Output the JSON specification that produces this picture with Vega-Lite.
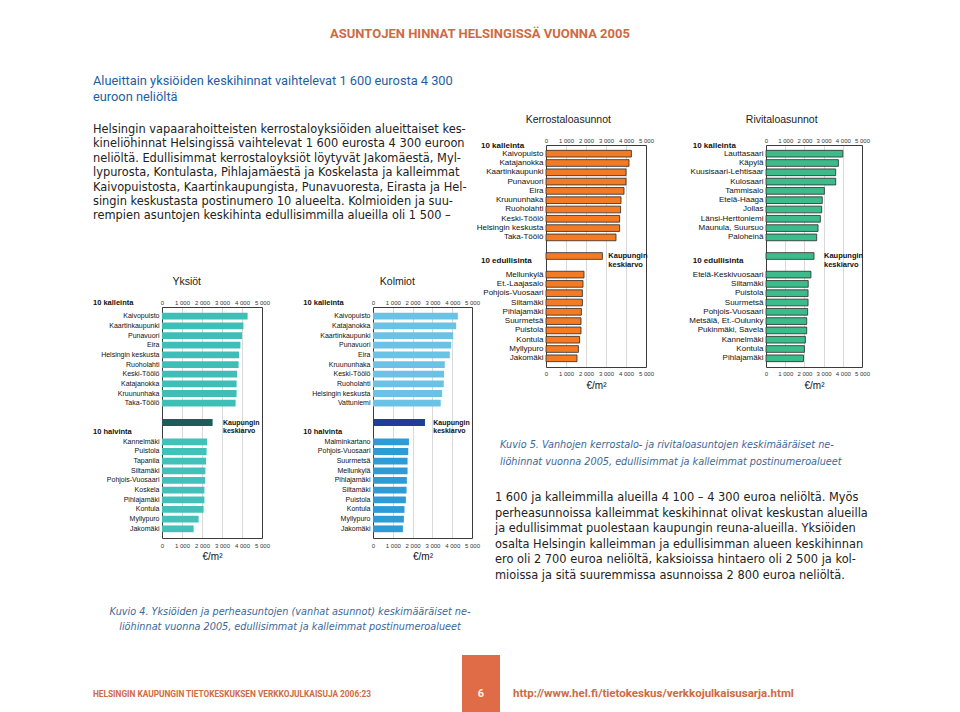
{
  "$schema": "https://vega.github.io/schema/vega-lite/v6.json",
  "width": 960,
  "height": 712,
  "padding": 0,
  "autosize": {"type": "none"},
  "background": "white",
  "config": {
    "view": {"stroke": null},
    "font": "Liberation Sans",
    "text": {"font": "Liberation Sans"},
    "axis": {"labelFont": "Liberation Sans", "titleFont": "Liberation Sans"}
  },
  "resolve": {"scale": {"x": "independent", "y": "independent", "color": "independent"}, "axis": {"x": "independent", "y": "independent"}},
  "datasets": {
    "hdr": [{"t": "ASUNTOJEN HINNAT HELSINGISSÄ VUONNA 2005"}],
    "heading": [{"t": ["Alueittain yksiöiden keskihinnat vaihtelevat 1 600 eurosta 4 300", "euroon neliöltä"]}],
    "body1": [{"t": [
      "Helsingin vapaarahoitteisten kerrostaloyksiöiden alueittaiset kes-",
      "kineliöhinnat Helsingissä vaihtelevat 1 600 eurosta 4 300 euroon",
      "neliöltä. Edullisimmat kerrostaloyksiöt löytyvät Jakomäestä, Myl-",
      "lypurosta, Kontulasta, Pihlajamäestä ja Koskelasta ja kalleimmat",
      "Kaivopuistosta, Kaartinkaupungista, Punavuoresta, Eirasta ja Hel-",
      "singin keskustasta postinumero 10 alueelta. Kolmioiden ja suu-",
      "rempien asuntojen keskihinta edullisimmilla alueilla oli 1 500 –"
    ]}],
    "cap4": [{"t": [
      "Kuvio 4. Yksiöiden ja perheasuntojen (vanhat asunnot) keskimääräiset ne-",
      "liöhinnat vuonna 2005, edullisimmat ja kalleimmat postinumeroalueet"
    ]}],
    "foot1": [{"t": "HELSINGIN KAUPUNGIN TIETOKESKUKSEN VERKKOJULKAISUJA 2006:23"}],
    "page": [{"t": "6"}],
    "cap5": [{"t": [
      "Kuvio 5.  Vanhojen kerrostalo- ja rivitaloasuntojen keskimääräiset ne-",
      "liöhinnat vuonna 2005, edullisimmat ja kalleimmat postinumeroalueet"
    ]}],
    "body2": [{"t": [
      "1 600 ja kalleimmilla alueilla 4 100 – 4 300 euroa neliöltä. Myös",
      "perheasunnoissa kalleimmat keskihinnat olivat keskustan alueilla",
      "ja edullisimmat puolestaan kaupungin reuna-alueilla. Yksiöiden",
      "osalta Helsingin kalleimman ja edullisimman alueen keskihinnan",
      "ero oli 2 700 euroa neliöltä, kaksioissa hintaero oli 2 500 ja kol-",
      "mioissa ja sitä suuremmissa asunnoissa 2 800 euroa neliöltä."
    ]}],
    "url": [{"t": "http://www.hel.fi/tietokeskus/verkkojulkaisusarja.html"}],
    "yks": [
      {"area": "Kaivopuisto", "value": 4280, "grp": "top"},
      {"area": "Kaartinkaupunki", "value": 4070, "grp": "top"},
      {"area": "Punavuori", "value": 4000, "grp": "top"},
      {"area": "Eira", "value": 3920, "grp": "top"},
      {"area": "Helsingin keskusta", "value": 3850, "grp": "top"},
      {"area": "Ruoholahti", "value": 3830, "grp": "top"},
      {"area": "Keski-Töölö", "value": 3750, "grp": "top"},
      {"area": "Katajanokka", "value": 3730, "grp": "top"},
      {"area": "Kruununhaka", "value": 3730, "grp": "top"},
      {"area": "Taka-Töölö", "value": 3680, "grp": "top"},
      {"area": "Kaupungin keskiarvo", "value": 2530, "grp": "avg"},
      {"area": "Kannelmäki", "value": 2250, "grp": "bottom"},
      {"area": "Puistola", "value": 2230, "grp": "bottom"},
      {"area": "Tapanila", "value": 2200, "grp": "bottom"},
      {"area": "Siltamäki", "value": 2170, "grp": "bottom"},
      {"area": "Pohjois-Vuosaari", "value": 2150, "grp": "bottom"},
      {"area": "Koskela", "value": 2120, "grp": "bottom"},
      {"area": "Pihlajamäki", "value": 2120, "grp": "bottom"},
      {"area": "Kontula", "value": 2080, "grp": "bottom"},
      {"area": "Myllypuro", "value": 1830, "grp": "bottom"},
      {"area": "Jakomäki", "value": 1580, "grp": "bottom"}
    ],
    "kol": [
      {"area": "Kaivopuisto", "value": 4285, "grp": "top"},
      {"area": "Katajanokka", "value": 4200, "grp": "top"},
      {"area": "Kaartinkaupunki", "value": 4050, "grp": "top"},
      {"area": "Punavuori", "value": 3950, "grp": "top"},
      {"area": "Eira", "value": 3880, "grp": "top"},
      {"area": "Kruununhaka", "value": 3625, "grp": "top"},
      {"area": "Keski-Töölö", "value": 3590, "grp": "top"},
      {"area": "Ruoholahti", "value": 3575, "grp": "top"},
      {"area": "Helsingin keskusta", "value": 3490, "grp": "top"},
      {"area": "Vattuniemi", "value": 3420, "grp": "top"},
      {"area": "Kaupungin keskiarvo", "value": 2625, "grp": "avg"},
      {"area": "Malminkartano", "value": 1815, "grp": "bottom"},
      {"area": "Pohjois-Vuosaari", "value": 1780, "grp": "bottom"},
      {"area": "Suurmetsä", "value": 1745, "grp": "bottom"},
      {"area": "Mellunkylä", "value": 1745, "grp": "bottom"},
      {"area": "Pihlajamäki", "value": 1710, "grp": "bottom"},
      {"area": "Siltamäki", "value": 1695, "grp": "bottom"},
      {"area": "Puistola", "value": 1660, "grp": "bottom"},
      {"area": "Kontula", "value": 1590, "grp": "bottom"},
      {"area": "Myllypuro", "value": 1560, "grp": "bottom"},
      {"area": "Jakomäki", "value": 1510, "grp": "bottom"}
    ],
    "ker": [
      {"area": "Kaivopuisto", "value": 4270, "grp": "top"},
      {"area": "Katajanokka", "value": 4150, "grp": "top"},
      {"area": "Kaartinkaupunki", "value": 4000, "grp": "top"},
      {"area": "Punavuori", "value": 4000, "grp": "top"},
      {"area": "Eira", "value": 3900, "grp": "top"},
      {"area": "Kruununhaka", "value": 3750, "grp": "top"},
      {"area": "Ruoholahti", "value": 3730, "grp": "top"},
      {"area": "Keski-Töölö", "value": 3680, "grp": "top"},
      {"area": "Helsingin keskusta", "value": 3680, "grp": "top"},
      {"area": "Taka-Töölö", "value": 3500, "grp": "top"},
      {"area": "Kaupungin keskiarvo", "value": 2820, "grp": "avg"},
      {"area": "Mellunkylä", "value": 1900, "grp": "bottom"},
      {"area": "Et.-Laajasalo", "value": 1850, "grp": "bottom"},
      {"area": "Pohjois-Vuosaari", "value": 1820, "grp": "bottom"},
      {"area": "Siltamäki", "value": 1820, "grp": "bottom"},
      {"area": "Pihlajamäki", "value": 1770, "grp": "bottom"},
      {"area": "Suurmetsä", "value": 1750, "grp": "bottom"},
      {"area": "Puistola", "value": 1750, "grp": "bottom"},
      {"area": "Kontula", "value": 1680, "grp": "bottom"},
      {"area": "Myllypuro", "value": 1620, "grp": "bottom"},
      {"area": "Jakomäki", "value": 1550, "grp": "bottom"}
    ],
    "riv": [
      {"area": "Lauttasaari", "value": 4000, "grp": "top"},
      {"area": "Käpylä", "value": 3770, "grp": "top"},
      {"area": "Kuusisaari-Lehtisaar", "value": 3630, "grp": "top"},
      {"area": "Kulosaari", "value": 3630, "grp": "top"},
      {"area": "Tammisalo", "value": 3040, "grp": "top"},
      {"area": "Etelä-Haaga", "value": 2930, "grp": "top"},
      {"area": "Jollas", "value": 2900, "grp": "top"},
      {"area": "Länsi-Herttoniemi", "value": 2830, "grp": "top"},
      {"area": "Maunula, Suursuo", "value": 2710, "grp": "top"},
      {"area": "Paloheinä", "value": 2640, "grp": "top"},
      {"area": "Kaupungin keskiarvo", "value": 2500, "grp": "avg"},
      {"area": "Etelä-Keskivuosaari", "value": 2340, "grp": "bottom"},
      {"area": "Siltamäki", "value": 2200, "grp": "bottom"},
      {"area": "Puistola", "value": 2190, "grp": "bottom"},
      {"area": "Suurmetsä", "value": 2190, "grp": "bottom"},
      {"area": "Pohjois-Vuosaari", "value": 2170, "grp": "bottom"},
      {"area": "Metsälä, Et.-Oulunky", "value": 2120, "grp": "bottom"},
      {"area": "Pukinmäki, Savela", "value": 2120, "grp": "bottom"},
      {"area": "Kannelmäki", "value": 2050, "grp": "bottom"},
      {"area": "Kontula", "value": 2000, "grp": "bottom"},
      {"area": "Pihlajamäki", "value": 1950, "grp": "bottom"}
    ]
  },
  "layer": [
    {"data": {"name": "hdr"}, "mark": {"type": "text", "x": 480, "y": 38, "align": "center", "baseline": "alphabetic", "font": "Roboto", "fontWeight": "bold", "fontSize": 13, "color": "#CF6A43"}, "encoding": {"text": {"field": "t", "type": "nominal"}}},
    {"data": {"name": "heading"}, "mark": {"type": "text", "x": 93, "y": 85, "align": "left", "baseline": "alphabetic", "font": "Roboto", "fontSize": 12.8, "lineHeight": 16, "color": "#1D5FA3"}, "encoding": {"text": {"field": "t", "type": "nominal"}}},
    {"data": {"name": "body1"}, "mark": {"type": "text", "x": 93, "y": 133, "align": "left", "baseline": "alphabetic", "font": "DejaVu Sans", "fontSize": 11.4, "lineHeight": 14.4, "color": "#222222"}, "encoding": {"text": {"field": "t", "type": "nominal"}}},
    {"data": {"name": "cap4"}, "mark": {"type": "text", "x": 290, "y": 614.5, "align": "center", "baseline": "alphabetic", "font": "DejaVu Sans", "fontStyle": "italic", "fontSize": 9.7, "lineHeight": 15.5, "color": "#3D6896"}, "encoding": {"text": {"field": "t", "type": "nominal"}}},
    {"data": {"name": "foot1"}, "mark": {"type": "text", "x": 93, "y": 697, "align": "left", "baseline": "alphabetic", "font": "Roboto", "fontWeight": "bold", "fontSize": 8.3, "color": "#D06A42"}, "encoding": {"text": {"field": "t", "type": "nominal"}}},
    {"data": {"values": [{"t": "6"}]}, "mark": {"type": "rect", "x": 462, "x2": 500, "y": 655, "y2": 712, "color": "#E06C47"}, "encoding": {}},
    {"data": {"name": "page"}, "mark": {"type": "text", "x": 481, "y": 697, "align": "center", "baseline": "alphabetic", "font": "Roboto", "fontWeight": "bold", "fontSize": 11, "color": "#FFF3EC"}, "encoding": {"text": {"field": "t", "type": "nominal"}}},
    {"data": {"name": "cap5"}, "mark": {"type": "text", "x": 500, "y": 448, "align": "left", "baseline": "alphabetic", "font": "DejaVu Sans", "fontStyle": "italic", "fontSize": 9.7, "lineHeight": 16.5, "color": "#3D6896"}, "encoding": {"text": {"field": "t", "type": "nominal"}}},
    {"data": {"name": "body2"}, "mark": {"type": "text", "x": 495, "y": 501, "align": "left", "baseline": "alphabetic", "font": "DejaVu Sans", "fontSize": 11.4, "lineHeight": 15.6, "color": "#222222"}, "encoding": {"text": {"field": "t", "type": "nominal"}}},
    {"data": {"name": "url"}, "mark": {"type": "text", "x": 513, "y": 697, "align": "left", "baseline": "alphabetic", "font": "Roboto", "fontWeight": "bold", "fontSize": 11.5, "color": "#D06A42"}, "encoding": {"text": {"field": "t", "type": "nominal"}}},
    {
      "resolve": {"axis": {"x": "independent", "y": "independent"}},
      "layer": [
        {
          "data": {"name": "yks"},
          "mark": {"type": "bar"},
          "encoding": {
            "x": {"field": "value", "type": "quantitative", "scale": {"domain": [0, 5000], "range": [162, 262], "nice": false},
              "axis": {"orient": "top", "offset": -307, "values": [0, 1000, 2000, 3000, 4000, 5000], "labelExpr": "datum.value == 0 ? '0' : (datum.value/1000) + ' 000'", "ticks": false, "domain": true, "domainColor": "#3c3c3c", "grid": true, "gridColor": "#c9c9c9", "gridWidth": 0.7, "labelFontSize": 6, "labelColor": "#333333", "labelPadding": 2, "title": null, "labelFlush": false}},
            "y": {"field": "area", "type": "nominal", "sort": null,
              "scale": {"domain": ["Kaivopuisto", "Kaartinkaupunki", "Punavuori", "Eira", "Helsingin keskusta", "Ruoholahti", "Keski-Töölö", "Katajanokka", "Kruununhaka", "Taka-Töölö", "_g1", "Kaupungin keskiarvo", "_h2", "Kannelmäki", "Puistola", "Tapanila", "Siltamäki", "Pohjois-Vuosaari", "Koskela", "Pihlajamäki", "Kontula", "Myllypuro", "Jakomäki"], "range": [307, 538], "paddingInner": 0.3, "paddingOuter": 0.6},
              "axis": {"orient": "left", "offset": -162, "title": null, "ticks": false, "domain": true, "domainColor": "#3c3c3c", "grid": false, "labelFontSize": 7, "labelColor": "#111111", "labelPadding": 3, "labelExpr": "indexof(['_g1','_h2','Kaupungin keskiarvo'], datum.value) >= 0 ? '' : datum.value"}},
            "color": {"field": "grp", "type": "nominal", "scale": {"domain": ["top", "avg", "bottom"], "range": ["#3FBEB7", "#1C5D5A", "#42C0B9"]}, "legend": null}
          }
        },
        {
          "data": {"values": [{"t": "Yksiöt"}]},
          "mark": {"type": "text", "align": "center", "baseline": "middle", "fontSize": 10.5, "dy": -34, "color": "#222222"},
          "encoding": {"x": {"datum": 1235, "axis": null}, "y": {"datum": "Kaivopuisto", "axis": null}, "text": {"field": "t", "type": "nominal"}}
        },
        {
          "data": {"values": [{"t": "10 kalleinta"}]},
          "mark": {"type": "text", "align": "left", "baseline": "middle", "fontWeight": "bold", "fontSize": 7.5, "dy": -13.5, "color": "#111111"},
          "encoding": {"x": {"datum": -3450, "axis": null}, "y": {"datum": "Kaivopuisto", "axis": null}, "text": {"field": "t", "type": "nominal"}}
        },
        {
          "data": {"values": [{"t": "10 halvinta"}]},
          "mark": {"type": "text", "align": "left", "baseline": "middle", "fontWeight": "bold", "fontSize": 7.5, "color": "#111111"},
          "encoding": {"x": {"datum": -3450, "axis": null},
            "y": {"datum": "_h2", "axis": {"orient": "right", "offset": -698, "title": null, "ticks": false, "labels": false, "domain": true, "domainColor": "#3c3c3c", "grid": false}},
            "text": {"field": "t", "type": "nominal"}}
        },
        {
          "data": {"values": [{"t": ["Kaupungin", "keskiarvo"]}]},
          "mark": {"type": "text", "align": "left", "baseline": "middle", "fontWeight": "bold", "fontSize": 7, "lineHeight": 8.5, "color": "#111111"},
          "encoding": {
            "x": {"datum": 3050, "axis": {"orient": "bottom", "offset": -174, "values": [0, 1000, 2000, 3000, 4000, 5000], "labelExpr": "datum.value == 0 ? '0' : (datum.value/1000) + ' 000'", "ticks": false, "domain": true, "domainColor": "#3c3c3c", "grid": false, "labelFontSize": 6, "labelColor": "#333333", "labelPadding": 4, "title": "€/m²", "titleFontSize": 10, "titleFontWeight": "normal", "titleColor": "#111111", "titlePadding": 3, "labelFlush": false}},
            "y": {"datum": "Kaupungin keskiarvo", "axis": null},
            "text": {"field": "t", "type": "nominal"}
          }
        }
      ]
    },
    {
      "resolve": {"axis": {"x": "independent", "y": "independent"}},
      "layer": [
        {
          "data": {"name": "kol"},
          "mark": {"type": "bar"},
          "encoding": {
            "x": {"field": "value", "type": "quantitative", "scale": {"domain": [0, 5000], "range": [373, 472], "nice": false},
              "axis": {"orient": "top", "offset": -307, "values": [0, 1000, 2000, 3000, 4000, 5000], "labelExpr": "datum.value == 0 ? '0' : (datum.value/1000) + ' 000'", "ticks": false, "domain": true, "domainColor": "#3c3c3c", "grid": true, "gridColor": "#c9c9c9", "gridWidth": 0.7, "labelFontSize": 6, "labelColor": "#333333", "labelPadding": 2, "title": null, "labelFlush": false}},
            "y": {"field": "area", "type": "nominal", "sort": null,
              "scale": {"domain": ["Kaivopuisto", "Katajanokka", "Kaartinkaupunki", "Punavuori", "Eira", "Kruununhaka", "Keski-Töölö", "Ruoholahti", "Helsingin keskusta", "Vattuniemi", "_g1", "Kaupungin keskiarvo", "_h2", "Malminkartano", "Pohjois-Vuosaari", "Suurmetsä", "Mellunkylä", "Pihlajamäki", "Siltamäki", "Puistola", "Kontula", "Myllypuro", "Jakomäki"], "range": [307, 538], "paddingInner": 0.3, "paddingOuter": 0.6},
              "axis": {"orient": "left", "offset": -373, "title": null, "ticks": false, "domain": true, "domainColor": "#3c3c3c", "grid": false, "labelFontSize": 7, "labelColor": "#111111", "labelPadding": 3, "labelExpr": "indexof(['_g1','_h2','Kaupungin keskiarvo'], datum.value) >= 0 ? '' : datum.value"}},
            "color": {"field": "grp", "type": "nominal", "scale": {"domain": ["top", "avg", "bottom"], "range": ["#6CC2E5", "#1E3E98", "#2C9BD6"]}, "legend": null}
          }
        },
        {
          "data": {"values": [{"t": "Kolmiot"}]},
          "mark": {"type": "text", "align": "center", "baseline": "middle", "fontSize": 10.5, "dy": -34, "color": "#222222"},
          "encoding": {"x": {"datum": 1227, "axis": null}, "y": {"datum": "Kaivopuisto", "axis": null}, "text": {"field": "t", "type": "nominal"}}
        },
        {
          "data": {"values": [{"t": "10 kalleinta"}]},
          "mark": {"type": "text", "align": "left", "baseline": "middle", "fontWeight": "bold", "fontSize": 7.5, "dy": -13.5, "color": "#111111"},
          "encoding": {"x": {"datum": -3520, "axis": null}, "y": {"datum": "Kaivopuisto", "axis": null}, "text": {"field": "t", "type": "nominal"}}
        },
        {
          "data": {"values": [{"t": "10 halvinta"}]},
          "mark": {"type": "text", "align": "left", "baseline": "middle", "fontWeight": "bold", "fontSize": 7.5, "color": "#111111"},
          "encoding": {"x": {"datum": -3520, "axis": null},
            "y": {"datum": "_h2", "axis": {"orient": "right", "offset": -488, "title": null, "ticks": false, "labels": false, "domain": true, "domainColor": "#3c3c3c", "grid": false}},
            "text": {"field": "t", "type": "nominal"}}
        },
        {
          "data": {"values": [{"t": ["Kaupungin", "keskiarvo"]}]},
          "mark": {"type": "text", "align": "left", "baseline": "middle", "fontWeight": "bold", "fontSize": 7, "lineHeight": 8.5, "color": "#111111"},
          "encoding": {
            "x": {"datum": 3045, "axis": {"orient": "bottom", "offset": -174, "values": [0, 1000, 2000, 3000, 4000, 5000], "labelExpr": "datum.value == 0 ? '0' : (datum.value/1000) + ' 000'", "ticks": false, "domain": true, "domainColor": "#3c3c3c", "grid": false, "labelFontSize": 6, "labelColor": "#333333", "labelPadding": 4, "title": "€/m²", "titleFontSize": 10, "titleFontWeight": "normal", "titleColor": "#111111", "titlePadding": 3, "labelFlush": false}},
            "y": {"datum": "Kaupungin keskiarvo", "axis": null},
            "text": {"field": "t", "type": "nominal"}
          }
        }
      ]
    },
    {
      "resolve": {"axis": {"x": "independent", "y": "independent"}},
      "layer": [
        {
          "data": {"name": "ker"},
          "mark": {"type": "bar", "stroke": "#2a2a2a", "strokeWidth": 0.8},
          "encoding": {
            "x": {"field": "value", "type": "quantitative", "scale": {"domain": [0, 5000], "range": [546, 646], "nice": false},
              "axis": {"orient": "top", "offset": -145, "values": [0, 1000, 2000, 3000, 4000, 5000], "labelExpr": "datum.value == 0 ? '0' : (datum.value/1000) + ' 000'", "ticks": false, "domain": true, "domainColor": "#3c3c3c", "grid": true, "gridColor": "#c9c9c9", "gridWidth": 0.7, "labelFontSize": 6, "labelColor": "#333333", "labelPadding": 2, "title": null, "labelFlush": false}},
            "y": {"field": "area", "type": "nominal", "sort": null,
              "scale": {"domain": ["Kaivopuisto", "Katajanokka", "Kaartinkaupunki", "Punavuori", "Eira", "Kruununhaka", "Ruoholahti", "Keski-Töölö", "Helsingin keskusta", "Taka-Töölö", "_g1", "Kaupungin keskiarvo", "_h2", "Mellunkylä", "Et.-Laajasalo", "Pohjois-Vuosaari", "Siltamäki", "Pihlajamäki", "Suurmetsä", "Puistola", "Kontula", "Myllypuro", "Jakomäki"], "range": [145, 367], "paddingInner": 0.28, "paddingOuter": 0.575},
              "axis": {"orient": "left", "offset": -546, "title": null, "ticks": false, "domain": true, "domainColor": "#3c3c3c", "grid": false, "labelFontSize": 8, "labelColor": "#111111", "labelPadding": 3, "labelExpr": "indexof(['_g1','_h2','Kaupungin keskiarvo'], datum.value) >= 0 ? '' : datum.value"}},
            "color": {"field": "grp", "type": "nominal", "scale": {"domain": ["top", "avg", "bottom"], "range": ["#F47B24", "#F47B24", "#F47B24"]}, "legend": null}
          }
        },
        {
          "data": {"values": [{"t": "Kerrostaloasunnot"}]},
          "mark": {"type": "text", "align": "center", "baseline": "middle", "fontSize": 10.5, "dy": -33.7, "color": "#222222"},
          "encoding": {"x": {"datum": 1115, "axis": null}, "y": {"datum": "Kaivopuisto", "axis": null}, "text": {"field": "t", "type": "nominal"}}
        },
        {
          "data": {"values": [{"t": "10 kalleinta"}]},
          "mark": {"type": "text", "align": "left", "baseline": "middle", "fontWeight": "bold", "fontSize": 8, "dy": -8, "color": "#111111"},
          "encoding": {"x": {"datum": -3250, "axis": null}, "y": {"datum": "Kaivopuisto", "axis": null}, "text": {"field": "t", "type": "nominal"}}
        },
        {
          "data": {"values": [{"t": "10 edullisinta"}]},
          "mark": {"type": "text", "align": "left", "baseline": "middle", "fontWeight": "bold", "fontSize": 8, "dy": -4.6, "color": "#111111"},
          "encoding": {"x": {"datum": -3250, "axis": null},
            "y": {"datum": "_h2", "axis": {"orient": "right", "offset": -314, "title": null, "ticks": false, "labels": false, "domain": true, "domainColor": "#3c3c3c", "grid": false}},
            "text": {"field": "t", "type": "nominal"}}
        },
        {
          "data": {"values": [{"t": ["Kaupungin", "keskiarvo"]}]},
          "mark": {"type": "text", "align": "left", "baseline": "middle", "fontWeight": "bold", "fontSize": 7.5, "lineHeight": 8.5, "color": "#111111"},
          "encoding": {
            "x": {"datum": 3115, "axis": {"orient": "bottom", "offset": -345, "values": [0, 1000, 2000, 3000, 4000, 5000], "labelExpr": "datum.value == 0 ? '0' : (datum.value/1000) + ' 000'", "ticks": false, "domain": true, "domainColor": "#3c3c3c", "grid": false, "labelFontSize": 6, "labelColor": "#333333", "labelPadding": 3, "title": "€/m²", "titleFontSize": 10, "titleFontWeight": "normal", "titleColor": "#111111", "titlePadding": 4, "labelFlush": false}},
            "y": {"datum": "Kaupungin keskiarvo", "axis": null},
            "text": {"field": "t", "type": "nominal"}
          }
        }
      ]
    },
    {
      "resolve": {"axis": {"x": "independent", "y": "independent"}},
      "layer": [
        {
          "data": {"name": "riv"},
          "mark": {"type": "bar", "stroke": "#2a2a2a", "strokeWidth": 0.8},
          "encoding": {
            "x": {"field": "value", "type": "quantitative", "scale": {"domain": [0, 5000], "range": [766, 862], "nice": false},
              "axis": {"orient": "top", "offset": -145, "values": [0, 1000, 2000, 3000, 4000, 5000], "labelExpr": "datum.value == 0 ? '0' : (datum.value/1000) + ' 000'", "ticks": false, "domain": true, "domainColor": "#3c3c3c", "grid": true, "gridColor": "#c9c9c9", "gridWidth": 0.7, "labelFontSize": 6, "labelColor": "#333333", "labelPadding": 2, "title": null, "labelFlush": false}},
            "y": {"field": "area", "type": "nominal", "sort": null,
              "scale": {"domain": ["Lauttasaari", "Käpylä", "Kuusisaari-Lehtisaar", "Kulosaari", "Tammisalo", "Etelä-Haaga", "Jollas", "Länsi-Herttoniemi", "Maunula, Suursuo", "Paloheinä", "_g1", "Kaupungin keskiarvo", "_h2", "Etelä-Keskivuosaari", "Siltamäki", "Puistola", "Suurmetsä", "Pohjois-Vuosaari", "Metsälä, Et.-Oulunky", "Pukinmäki, Savela", "Kannelmäki", "Kontula", "Pihlajamäki"], "range": [145, 367], "paddingInner": 0.28, "paddingOuter": 0.575},
              "axis": {"orient": "left", "offset": -766, "title": null, "ticks": false, "domain": true, "domainColor": "#3c3c3c", "grid": false, "labelFontSize": 8, "labelColor": "#111111", "labelPadding": 3, "labelExpr": "indexof(['_g1','_h2','Kaupungin keskiarvo'], datum.value) >= 0 ? '' : datum.value"}},
            "color": {"field": "grp", "type": "nominal", "scale": {"domain": ["top", "avg", "bottom"], "range": ["#3DBC8B", "#3DBC8B", "#3DBC8B"]}, "legend": null}
          }
        },
        {
          "data": {"values": [{"t": "Rivitaloasunnot"}]},
          "mark": {"type": "text", "align": "center", "baseline": "middle", "fontSize": 10.5, "dy": -33.7, "color": "#222222"},
          "encoding": {"x": {"datum": 818, "axis": null}, "y": {"datum": "Lauttasaari", "axis": null}, "text": {"field": "t", "type": "nominal"}}
        },
        {
          "data": {"values": [{"t": "10 kalleinta"}]},
          "mark": {"type": "text", "align": "left", "baseline": "middle", "fontWeight": "bold", "fontSize": 8, "dy": -8, "color": "#111111"},
          "encoding": {"x": {"datum": -3818, "axis": null}, "y": {"datum": "Lauttasaari", "axis": null}, "text": {"field": "t", "type": "nominal"}}
        },
        {
          "data": {"values": [{"t": "10 edullisinta"}]},
          "mark": {"type": "text", "align": "left", "baseline": "middle", "fontWeight": "bold", "fontSize": 8, "dy": -4.6, "color": "#111111"},
          "encoding": {"x": {"datum": -3818, "axis": null},
            "y": {"datum": "_h2", "axis": {"orient": "right", "offset": -98, "title": null, "ticks": false, "labels": false, "domain": true, "domainColor": "#3c3c3c", "grid": false}},
            "text": {"field": "t", "type": "nominal"}}
        },
        {
          "data": {"values": [{"t": ["Kaupungin", "keskiarvo"]}]},
          "mark": {"type": "text", "align": "left", "baseline": "middle", "fontWeight": "bold", "fontSize": 7.5, "lineHeight": 8.5, "color": "#111111"},
          "encoding": {
            "x": {"datum": 3021, "axis": {"orient": "bottom", "offset": -345, "values": [0, 1000, 2000, 3000, 4000, 5000], "labelExpr": "datum.value == 0 ? '0' : (datum.value/1000) + ' 000'", "ticks": false, "domain": true, "domainColor": "#3c3c3c", "grid": false, "labelFontSize": 6, "labelColor": "#333333", "labelPadding": 3, "title": "€/m²", "titleFontSize": 10, "titleFontWeight": "normal", "titleColor": "#111111", "titlePadding": 4, "labelFlush": false}},
            "y": {"datum": "Kaupungin keskiarvo", "axis": null},
            "text": {"field": "t", "type": "nominal"}
          }
        }
      ]
    }
  ]
}
